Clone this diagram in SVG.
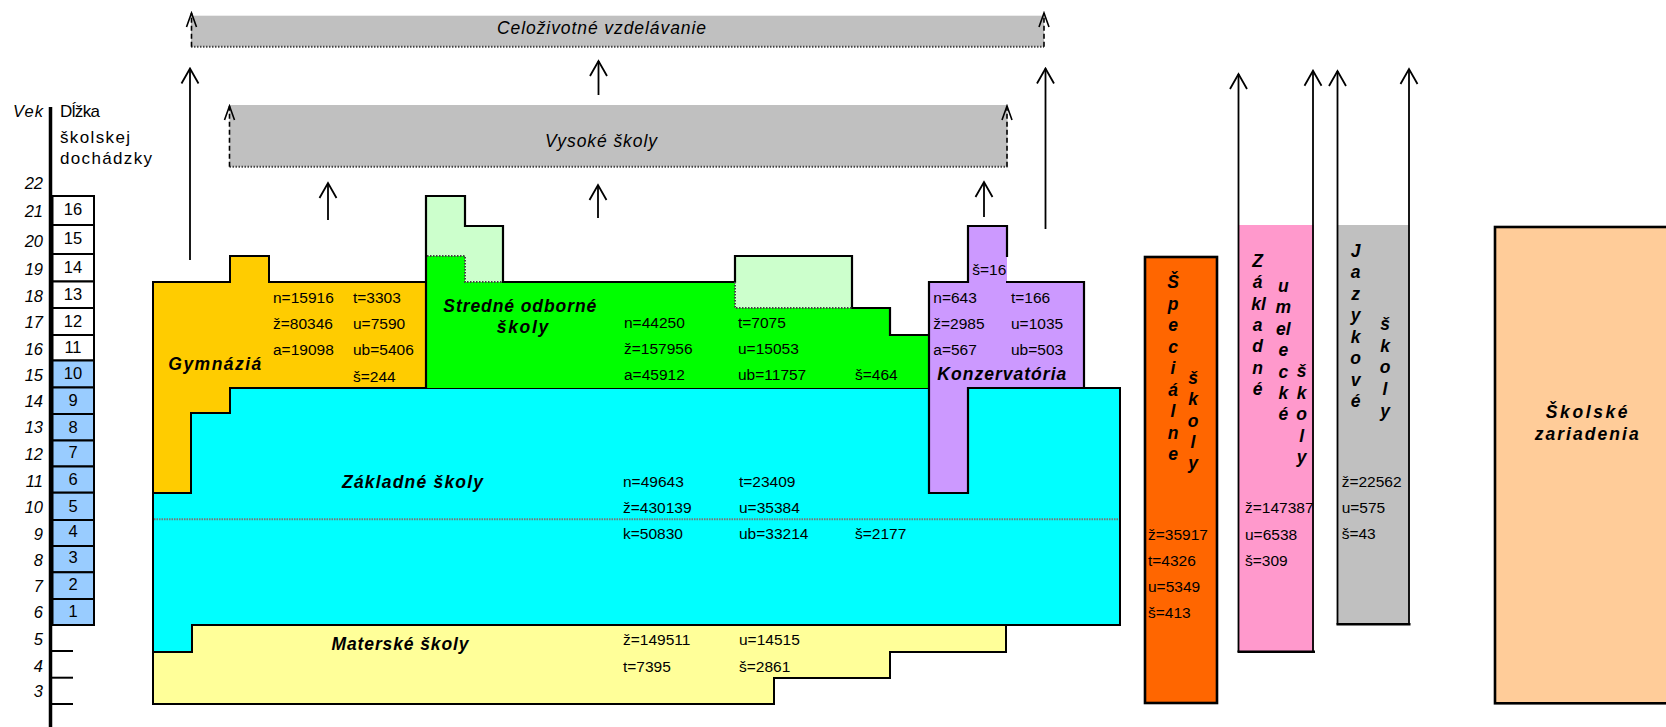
<svg xmlns="http://www.w3.org/2000/svg" width="1666" height="727" viewBox="0 0 1666 727">
<style>
text{font-family:"Liberation Sans",Arial,sans-serif;fill:#000}
.st{font-size:15.5px}
.ag{font-size:16.5px;font-style:italic}
.nm{font-size:16.5px}
.hd{font-size:17px}
.lb{font-size:17.5px;font-weight:bold;font-style:italic}
.vt{font-size:17.5px;font-weight:bold;font-style:italic;text-anchor:middle}
.it{font-size:17.5px;font-style:italic}
.ol{fill:none;stroke:#000;stroke-width:2.2;stroke-linejoin:miter}
.dot{fill:none;stroke:#444;stroke-width:2;stroke-dasharray:1.5 1.5}
.ar{fill:none;stroke:#000;stroke-width:1.8}
.da{fill:none;stroke:#000;stroke-width:1.6;stroke-dasharray:5 3}
.box{stroke:#000;stroke-width:2}
</style>
<defs>
<marker id="up" viewBox="-16 -10 18 20" refX="0" refY="0" markerWidth="18" markerHeight="20" markerUnits="userSpaceOnUse" orient="auto">
<path d="M-15,-8.5 L0,0 L-15,8.5" fill="none" stroke="#000" stroke-width="1.8"/>
</marker>
<marker id="ups" viewBox="-16 -8 18 16" refX="0" refY="0" markerWidth="18" markerHeight="16" markerUnits="userSpaceOnUse" orient="auto">
<path d="M-14,-5 L0,0 L-14,5" fill="none" stroke="#000" stroke-width="1.6"/>
</marker>
</defs>
<rect width="1666" height="727" fill="#fff"/>

<g id="scale">
<line x1="50.5" y1="107" x2="50.5" y2="727" stroke="#000" stroke-width="3.5"/>
<text class="ag" x="13" y="116.7" textLength="30" lengthAdjust="spacing">Vek</text>
<text class="hd" x="60" y="116.7" textLength="40" lengthAdjust="spacing">Dĺžka</text>
<text class="hd" x="60" y="143.3" textLength="70" lengthAdjust="spacing">školskej</text>
<text class="hd" x="60" y="164" textLength="92" lengthAdjust="spacing">dochádzky</text>
<g fill="#fff">
<rect class="box" x="52.5" y="196" width="41.5" height="29"/>
<rect class="box" x="52.5" y="225" width="41.5" height="29"/>
<rect class="box" x="52.5" y="254" width="41.5" height="27.5"/>
<rect class="box" x="52.5" y="281.5" width="41.5" height="26.5"/>
<rect class="box" x="52.5" y="308" width="41.5" height="27"/>
<rect class="box" x="52.5" y="335" width="41.5" height="25.5"/>
</g>
<g fill="#99CCFF">
<rect class="box" x="52.5" y="360.5" width="41.5" height="27"/>
<rect class="box" x="52.5" y="387.5" width="41.5" height="26.5"/>
<rect class="box" x="52.5" y="414" width="41.5" height="26.5"/>
<rect class="box" x="52.5" y="440.5" width="41.5" height="26"/>
<rect class="box" x="52.5" y="466.5" width="41.5" height="26.2"/>
<rect class="box" x="52.5" y="492.7" width="41.5" height="27.3"/>
<rect class="box" x="52.5" y="520" width="41.5" height="26"/>
<rect class="box" x="52.5" y="546" width="41.5" height="26.3"/>
<rect class="box" x="52.5" y="572.3" width="41.5" height="26.7"/>
<rect class="box" x="52.5" y="599" width="41.5" height="26"/>
</g>
<g stroke="#000" stroke-width="2">
<line x1="50" y1="651" x2="73" y2="651"/>
<line x1="50" y1="677.7" x2="73" y2="677.7"/>
<line x1="50" y1="704" x2="73" y2="704"/>
</g>
<g class="ag" text-anchor="end">
<text class="ag" x="43" y="189">22</text>
<text class="ag" x="43" y="216.7">21</text>
<text class="ag" x="43" y="246.7">20</text>
<text class="ag" x="43" y="275">19</text>
<text class="ag" x="43" y="301.7">18</text>
<text class="ag" x="43" y="328.3">17</text>
<text class="ag" x="43" y="355">16</text>
<text class="ag" x="43" y="380.5">15</text>
<text class="ag" x="43" y="406.7">14</text>
<text class="ag" x="43" y="432.7">13</text>
<text class="ag" x="43" y="460">12</text>
<text class="ag" x="43" y="486.5">11</text>
<text class="ag" x="43" y="513">10</text>
<text class="ag" x="43" y="540">9</text>
<text class="ag" x="43" y="565.5">8</text>
<text class="ag" x="43" y="591.7">7</text>
<text class="ag" x="43" y="617.7">6</text>
<text class="ag" x="43" y="645">5</text>
<text class="ag" x="43" y="671.7">4</text>
<text class="ag" x="43" y="697.3">3</text>
</g>
<g text-anchor="middle">
<text class="nm" x="73" y="215">16</text>
<text class="nm" x="73" y="244">15</text>
<text class="nm" x="73" y="273.3">14</text>
<text class="nm" x="73" y="300">13</text>
<text class="nm" x="73" y="326.7">12</text>
<text class="nm" x="73" y="353.3">11</text>
<text class="nm" x="73" y="379.3">10</text>
<text class="nm" x="73" y="406">9</text>
<text class="nm" x="73" y="432.7">8</text>
<text class="nm" x="73" y="458.3">7</text>
<text class="nm" x="73" y="485">6</text>
<text class="nm" x="73" y="511.7">5</text>
<text class="nm" x="73" y="537.3">4</text>
<text class="nm" x="73" y="563.3">3</text>
<text class="nm" x="73" y="590">2</text>
<text class="nm" x="73" y="616.7">1</text>
</g>
</g>

<g id="celozivotne">
<rect x="191" y="15.7" width="853" height="31" fill="#C0C0C0"/>
<line class="dot" x1="191" y1="46.7" x2="1044" y2="46.7"/>
<text class="it" x="497" y="34" textLength="209" lengthAdjust="spacing">Celoživotné vzdelávanie</text>
</g>

<g id="vysoke">
<rect x="229.5" y="105" width="778" height="61.7" fill="#C0C0C0"/>
<line class="dot" x1="229.5" y1="166.7" x2="1007.5" y2="166.7"/>
<text class="it" x="545" y="147" textLength="112" lengthAdjust="spacing">Vysoké školy</text>
</g>

<g id="zakladne">
<polygon points="230,388 1120,388 1120,625 192,625 192,652 153,652 153,493 191,493 191,413 230,413" fill="#00FFFF" class="box"/>
<line x1="154" y1="519.3" x2="1119" y2="519.3" stroke="#777" stroke-width="2" stroke-dasharray="1.5 1"/>
<text class="lb" x="342" y="488" textLength="141" lengthAdjust="spacing">Základné školy</text>
<text class="st" x="623" y="486.7">n=49643</text>
<text class="st" x="623" y="513.3">ž=430139</text>
<text class="st" x="623" y="539.3">k=50830</text>
<text class="st" x="739" y="486.7">t=23409</text>
<text class="st" x="739" y="513.3">u=35384</text>
<text class="st" x="739" y="539.3">ub=33214</text>
<text class="st" x="855" y="539.3">š=2177</text>
</g>

<g id="gymnazia">
<polygon points="153,282 230,282 230,256 269,256 269,282 426,282 426,388 230,388 230,413 191,413 191,493 153,493" fill="#FFCC00" class="box"/>
<text class="lb" x="168.3" y="370" textLength="93" lengthAdjust="spacing">Gymnáziá</text>
<text class="st" x="273" y="303.3">n=15916</text>
<text class="st" x="273" y="329.3">ž=80346</text>
<text class="st" x="273" y="355">a=19098</text>
<text class="st" x="353" y="303.3">t=3303</text>
<text class="st" x="353" y="329.3">u=7590</text>
<text class="st" x="353" y="355">ub=5406</text>
<text class="st" x="353" y="381.7">š=244</text>
</g>

<g id="materske">
<polygon points="192,625 1006,625 1006,652 890,652 890,678 774,678 774,704 153,704 153,652 192,652" fill="#FFFF99" class="box"/>
<text class="lb" x="331.5" y="650" textLength="137" lengthAdjust="spacing">Materské školy</text>
<text class="st" x="623" y="645">ž=149511</text>
<text class="st" x="623" y="671.7">t=7395</text>
<text class="st" x="739" y="645">u=14515</text>
<text class="st" x="739" y="671.7">š=2861</text>
</g>

<g id="stredne-odborne">
<polygon points="426,256 465,256 465,282 735,282 735,308 890,308 890,335 929,335 929,388 426,388" fill="#00FF00"/>
<polygon points="426,196 465,196 465,226 503,226 503,282 465,282 465,256 426,256" fill="#CCFFCC"/>
<rect x="735" y="256" width="117" height="52" fill="#CCFFCC"/>
<path class="ol" d="M426,388 V196 H465 V226 H503 V282 H735 V256 H852 V308 H890 V335 H929"/>
<path class="dot" d="M427,256 H465 V282 H503 M735,282 V308 H852"/>
<text class="lb" x="443.3" y="311.7" textLength="153" lengthAdjust="spacing">Stredné odborné</text>
<text class="lb" x="496.7" y="333.3" textLength="51.6" lengthAdjust="spacing">školy</text>
<text class="st" x="624" y="328.3">n=44250</text>
<text class="st" x="624" y="354.3">ž=157956</text>
<text class="st" x="624" y="380.3">a=45912</text>
<text class="st" x="738" y="328.3">t=7075</text>
<text class="st" x="738" y="354.3">u=15053</text>
<text class="st" x="738" y="380.3">ub=11757</text>
<text class="st" x="855" y="380.3">š=464</text>
</g>

<g id="konzervatoria">
<polygon points="929,282 968,282 968,226 1007,226 1007,282 1084,282 1084,388 968,388 968,493 929,493" fill="#CC99FF"/>
<path class="ol" d="M1007,257 V226 H968 V282 H929 V493 H968 V388 H1084 V282 H1006"/>
<text class="st" x="972.3" y="275">š=16</text>
<text class="st" x="933.3" y="302.7">n=643</text>
<text class="st" x="933.3" y="328.7">ž=2985</text>
<text class="st" x="933.3" y="354.7">a=567</text>
<text class="st" x="1011" y="302.7">t=166</text>
<text class="st" x="1011" y="328.7">u=1035</text>
<text class="st" x="1011" y="354.7">ub=503</text>
<text class="lb" x="937.3" y="380" textLength="129" lengthAdjust="spacing">Konzervatória</text>
</g>

<g id="specialne">
<rect x="1145" y="257" width="72" height="446" fill="#FF6600" stroke="#000" stroke-width="2.6"/>
<text class="vt"><tspan x="1173" y="288">Š</tspan><tspan x="1173" dy="21.5">p</tspan><tspan x="1173" dy="21.5">e</tspan><tspan x="1173" dy="21.5">c</tspan><tspan x="1173" dy="21.5">i</tspan><tspan x="1173" dy="21.5">á</tspan><tspan x="1173" dy="21.5">l</tspan><tspan x="1173" dy="21.5">n</tspan><tspan x="1173" dy="21.5">e</tspan></text>
<text class="vt"><tspan x="1193" y="384">š</tspan><tspan x="1193" dy="21.3">k</tspan><tspan x="1193" dy="21.3">o</tspan><tspan x="1193" dy="21.3">l</tspan><tspan x="1193" dy="21.3">y</tspan></text>
<text class="st" x="1148" y="540">ž=35917</text>
<text class="st" x="1148" y="565.7">t=4326</text>
<text class="st" x="1148" y="592.3">u=5349</text>
<text class="st" x="1148" y="618.3">š=413</text>
</g>

<g id="zakladne-umelecke">
<rect x="1239" y="225" width="75" height="426.7" fill="#FF99CC"/>
<line x1="1237.5" y1="651.7" x2="1315" y2="651.7" stroke="#000" stroke-width="2.6"/>
<text class="vt"><tspan x="1257.5" y="266.7">Z</tspan><tspan x="1257.5" dy="21.4">á</tspan><tspan x="1258.5" dy="21.4">kl</tspan><tspan x="1257.5" dy="21.4">a</tspan><tspan x="1257.5" dy="21.4">d</tspan><tspan x="1257.5" dy="21.4">n</tspan><tspan x="1257.5" dy="21.4">é</tspan></text>
<text class="vt"><tspan x="1283.3" y="292">u</tspan><tspan x="1283.3" dy="21.4">m</tspan><tspan x="1283.3" dy="21.4">el</tspan><tspan x="1283.3" dy="21.4">e</tspan><tspan x="1283.3" dy="21.4">c</tspan><tspan x="1283.3" dy="21.4">k</tspan><tspan x="1283.3" dy="21.4">é</tspan></text>
<text class="vt"><tspan x="1301.7" y="377">š</tspan><tspan x="1301.7" dy="21.5">k</tspan><tspan x="1301.7" dy="21.5">o</tspan><tspan x="1301.7" dy="21.5">l</tspan><tspan x="1301.7" dy="21.5">y</tspan></text>
<text class="st" x="1245" y="513.3">ž=147387</text>
<text class="st" x="1245" y="540">u=6538</text>
<text class="st" x="1245" y="565.7">š=309</text>
</g>

<g id="jazykove">
<rect x="1338" y="225" width="71.5" height="399.3" fill="#C0C0C0"/>
<line x1="1336.5" y1="624.3" x2="1410.5" y2="624.3" stroke="#000" stroke-width="2.6"/>
<text class="vt"><tspan x="1355.7" y="256.5">J</tspan><tspan x="1355.7" dy="21.5">a</tspan><tspan x="1355.7" dy="21.5">z</tspan><tspan x="1355.7" dy="21.5">y</tspan><tspan x="1355.7" dy="21.5">k</tspan><tspan x="1355.7" dy="21.5">o</tspan><tspan x="1355.7" dy="21.5">v</tspan><tspan x="1355.7" dy="21.5">é</tspan></text>
<text class="vt"><tspan x="1385" y="330">š</tspan><tspan x="1385" dy="21.7">k</tspan><tspan x="1385" dy="21.7">o</tspan><tspan x="1385" dy="21.7">l</tspan><tspan x="1385" dy="21.7">y</tspan></text>
<text class="st" x="1341.7" y="486.7">ž=22562</text>
<text class="st" x="1341.7" y="513.3">u=575</text>
<text class="st" x="1341.7" y="539.3">š=43</text>
</g>

<g id="skolske-zariadenia">
<rect x="1495" y="227" width="180" height="476.3" fill="#FFCC99" stroke="#000" stroke-width="2.6"/>
<text class="lb" x="1586.7" y="418.3" text-anchor="middle" textLength="81.7" lengthAdjust="spacing">Školské</text>
<text class="lb" x="1586.7" y="440" text-anchor="middle" textLength="104" lengthAdjust="spacing">zariadenia</text>
</g>

<g id="connectors">
<line class="ar" x1="190" y1="260" x2="190" y2="68.5" marker-end="url(#up)"/>
<line class="ar" x1="1045.5" y1="229" x2="1045.5" y2="68.5" marker-end="url(#up)"/>
<line class="ar" x1="598.5" y1="95" x2="598.5" y2="61" marker-end="url(#up)"/>
<line class="ar" x1="328" y1="220" x2="328" y2="183" marker-end="url(#up)"/>
<line class="ar" x1="598" y1="218" x2="598" y2="185" marker-end="url(#up)"/>
<line class="ar" x1="984" y1="217" x2="984" y2="182" marker-end="url(#up)"/>
<line class="da" x1="191.5" y1="46.7" x2="191.5" y2="13" marker-end="url(#ups)"/>
<line class="da" x1="1044" y1="46.7" x2="1044" y2="13" marker-end="url(#ups)"/>
<line class="da" x1="229.5" y1="166.7" x2="229.5" y2="106" marker-end="url(#ups)"/>
<line class="da" x1="1007" y1="166.7" x2="1007" y2="106" marker-end="url(#ups)"/>
<line class="ar" x1="1238.5" y1="652" x2="1238.5" y2="74" marker-end="url(#up)"/>
<line class="ar" x1="1313" y1="652" x2="1313" y2="70.7" marker-end="url(#up)"/>
<line class="ar" x1="1337.5" y1="624.5" x2="1337.5" y2="71" marker-end="url(#up)"/>
<line class="ar" x1="1409" y1="624.5" x2="1409" y2="69" marker-end="url(#up)"/>
</g>
</svg>
